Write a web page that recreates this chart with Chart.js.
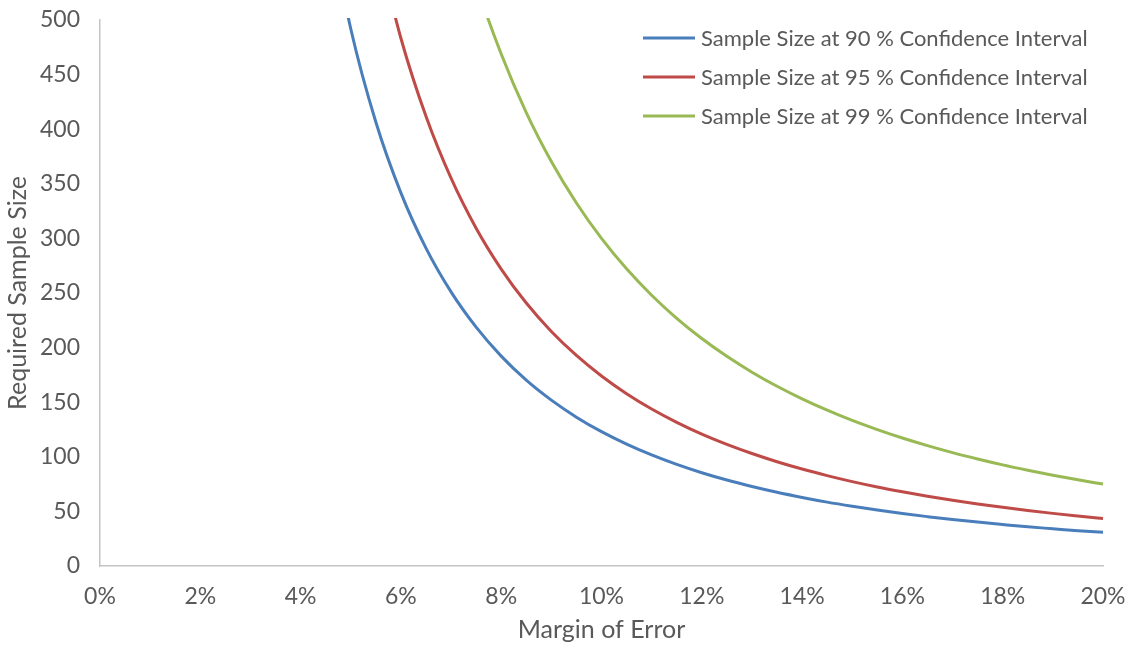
<!DOCTYPE html>
<html>
<head>
<meta charset="utf-8">
<script src="https://cdn.jsdelivr.net/npm/chart.js@4/dist/chart.umd.min.js"></script>
<style>
  html, body { margin: 0; padding: 0; background: #fff; }
  #wrap { width: 1128px; height: 648px; }
</style>
</head>
<body>
<div id="wrap"><canvas id="chart"></canvas></div>
<script>
// Margin of error (in %) and required sample sizes
const margins = [4.5, 5, 5.5, 6, 6.5, 7, 7.5, 8, 8.5, 9, 9.5, 10, 10.5, 11, 11.5, 12,
                 12.5, 13, 13.5, 14, 14.5, 15, 15.5, 16, 16.5, 17, 17.5, 18, 18.5, 19, 19.5, 20];
const size90 = [607.4, 492, 406.6, 341.7, 291.1, 251, 218.7, 192.2, 170.2, 151.9, 136.3, 123,
                111.6, 101.7, 93, 85.4, 78.7, 72.8, 67.5, 62.8, 58.5, 54.7, 51.2, 48,
                45.2, 42.6, 40.2, 38, 35.9, 34.1, 32.3, 30.8];
const size95 = [null, null, 575.2, 483.3, 411.8, 355.1, 309.3, 271.9, 240.8, 214.8, 192.8, 174,
                157.8, 143.8, 131.6, 120.8, 111.4, 103, 95.5, 88.8, 82.8, 77.3, 72.4, 68,
                63.9, 60.2, 56.8, 53.7, 50.8, 48.2, 45.8, 43.5];
const size99 = [null, null, null, null, null, 612.2, 533.3, 468.8, 415.2, 370.4, 332.4, 300,
                272.1, 247.9, 226.8, 208.3, 192, 177.5, 164.6, 153.1, 142.7, 133.3, 124.9, 117.2,
                110.2, 103.8, 98, 92.6, 87.7, 83.1, 78.9, 75];
const seriesNames = [
  'Sample Size at 90 % Confidence Interval',
  'Sample Size at 95 % Confidence Interval',
  'Sample Size at 99 % Confidence Interval'
];
const seriesColors = ['#4a7ebb', '#be4b48', '#98b954'];
const yTicks = { min: 0, max: 500, step: 50 };
const xTicks = { min: 0, max: 20, step: 2 };

const FONT = 'Lato, "Open Sans", sans-serif';
const TEXT = '#595959';
const AXIS = '#c4c4c4';

function toPoints(values) {
  const pts = [];
  values.forEach((v, i) => { if (v !== null) pts.push({ x: margins[i], y: v }); });
  return pts;
}

// legend drawn inside the plot, top right, like the original
const insideLegend = {
  id: 'insideLegend',
  afterDraw(chart) {
    const ctx = chart.ctx;
    ctx.save();
    ctx.font = '22px ' + FONT;
    ctx.textBaseline = 'middle';
    chart.data.datasets.forEach((ds, i) => {
      const y = 38 + i * 39;
      ctx.strokeStyle = ds.borderColor;
      ctx.lineWidth = 3;
      ctx.beginPath();
      ctx.moveTo(643, y);
      ctx.lineTo(695, y);
      ctx.stroke();
      ctx.fillStyle = TEXT;
      ctx.fillText(ds.label, 701, y + 1);
    });
    ctx.restore();
  }
};

const datasets = [size90, size95, size99].map((vals, i) => ({
  label: seriesNames[i],
  data: toPoints(vals),
  borderColor: seriesColors[i],
  backgroundColor: seriesColors[i],
  borderWidth: 3,
  pointRadius: 0,
  cubicInterpolationMode: 'monotone',
  fill: false,
  clip: 2
}));

new Chart(document.getElementById('chart'), {
  type: 'line',
  data: { datasets },
  options: {
    responsive: true,
    maintainAspectRatio: false,
    animation: false,
    layout: { padding: { top: 20, right: 25, left: 0, bottom: 0 } },
    plugins: {
      legend: { display: false },
      tooltip: { enabled: false }
    },
    scales: {
      x: {
        type: 'linear',
        min: xTicks.min,
        max: xTicks.max,
        afterFit: s => { s.height = 82; s.paddingLeft = 0; s.paddingRight = 0; },
        grid: { display: false, drawTicks: false },
        border: { display: true, color: AXIS, width: 1.5 },
        ticks: {
          stepSize: xTicks.step,
          padding: 17,
          color: TEXT,
          font: { family: FONT, size: 23 },
          callback: v => v + '%'
        },
        title: {
          display: true,
          text: 'Margin of Error',
          color: TEXT,
          font: { family: FONT, size: 25 },
          padding: { top: 0, bottom: 3 }
        }
      },
      y: {
        min: yTicks.min,
        max: yTicks.max,
        afterFit: s => { s.width = 100; s.paddingTop = 0; s.paddingBottom = 0; },
        grid: { display: false, drawTicks: false },
        border: { display: true, color: AXIS, width: 1.5 },
        ticks: {
          stepSize: yTicks.step,
          padding: 20,
          color: TEXT,
          font: { family: FONT, size: 23 }
        },
        title: {
          display: true,
          text: 'Required Sample Size',
          color: TEXT,
          font: { family: FONT, size: 25 },
          padding: { top: 3, bottom: 0 }
        }
      }
    }
  },
  plugins: [insideLegend]
});
</script>
</body>
</html>
